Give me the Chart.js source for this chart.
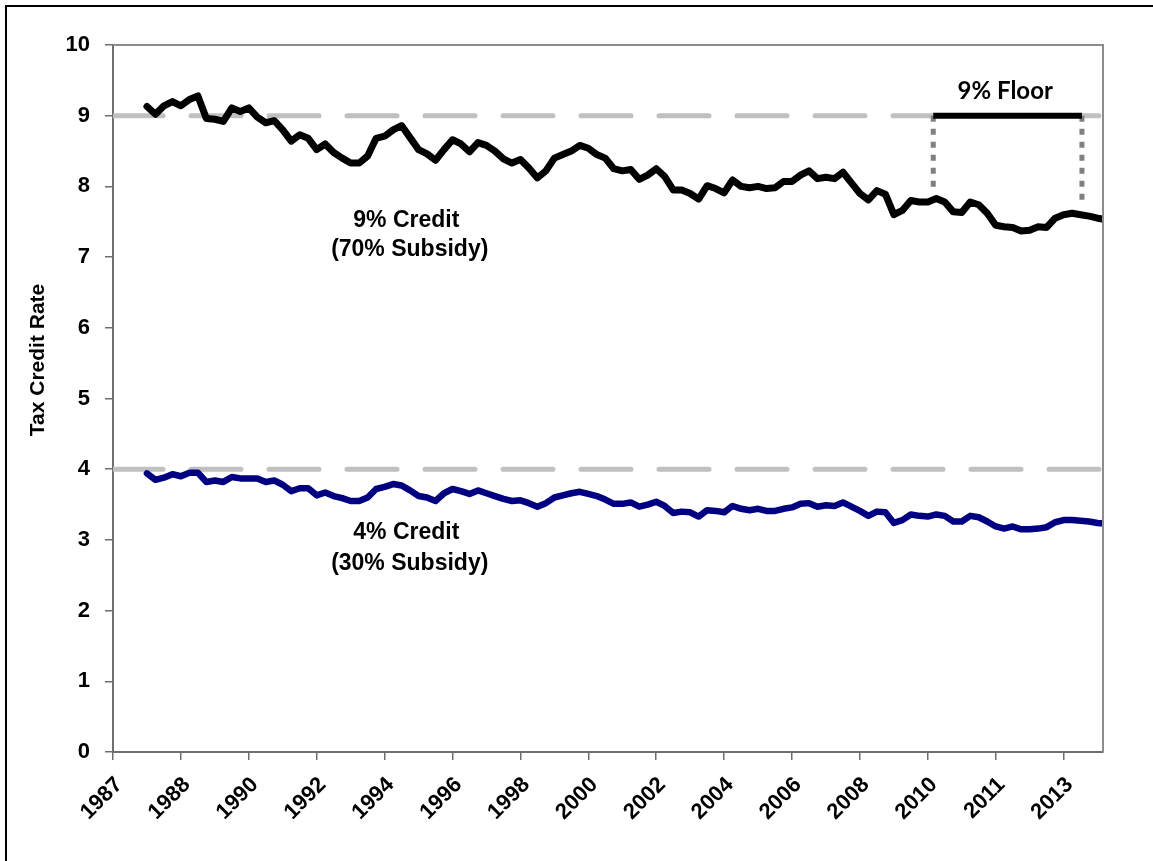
<!DOCTYPE html>
<html>
<head>
<meta charset="utf-8">
<script src="https://cdn.jsdelivr.net/npm/chart.js@4.4.0/dist/chart.umd.min.js"></script>
<style>
  html, body { margin: 0; padding: 0; background: #fff; }
  canvas { display: block; }
</style>
</head>
<body>
<canvas id="chart" width="1153" height="861"></canvas>
<script>
// x axis: one unit = one tick interval, labels as printed on the original
const tickLabels = ['1987', '1988', '1990', '1992', '1994', '1996', '1998', '2000',
    '2002', '2004', '2006', '2008', '2010', '2011', '2013'];
const xStart = 0.5;
const xStep = 0.125;
const xMax = 14.58;

// 9% credit (70% subsidy)
const credit9 = [
    9.13, 9.02, 9.14, 9.20, 9.14, 9.23, 9.28, 8.96, 8.95, 8.92,
    9.11, 9.06, 9.11, 8.98, 8.90, 8.93, 8.80, 8.64, 8.73, 8.68,
    8.52, 8.60, 8.48, 8.40, 8.33, 8.33, 8.43, 8.68, 8.71, 8.80,
    8.86, 8.69, 8.52, 8.46, 8.37, 8.52, 8.66, 8.60, 8.49, 8.62,
    8.58, 8.50, 8.39, 8.33, 8.38, 8.26, 8.12, 8.22, 8.40, 8.45,
    8.50, 8.58, 8.54, 8.45, 8.40, 8.25, 8.22, 8.24, 8.10, 8.16,
    8.25, 8.14, 7.95, 7.95, 7.90, 7.82, 8.01, 7.97, 7.91, 8.09,
    8.00, 7.98, 8.00, 7.97, 7.98, 8.07, 8.07, 8.16, 8.22, 8.11,
    8.13, 8.11, 8.20, 8.05, 7.90, 7.81, 7.94, 7.89, 7.60, 7.66,
    7.80, 7.78, 7.78, 7.83, 7.78, 7.64, 7.63, 7.78, 7.74, 7.62,
    7.45, 7.43, 7.42, 7.37, 7.38, 7.43, 7.42, 7.55, 7.60, 7.62,
    7.60, 7.58, 7.55, 7.53
];

// 4% credit (30% subsidy)
const credit4 = [
    3.94, 3.85, 3.88, 3.93, 3.90, 3.95, 3.95, 3.82, 3.84, 3.82,
    3.89, 3.87, 3.87, 3.87, 3.82, 3.84, 3.78, 3.69, 3.73, 3.73,
    3.63, 3.67, 3.62, 3.59, 3.55, 3.55, 3.60, 3.72, 3.75, 3.79,
    3.77, 3.70, 3.62, 3.60, 3.55, 3.66, 3.72, 3.69, 3.65, 3.70,
    3.66, 3.62, 3.58, 3.55, 3.56, 3.52, 3.47, 3.52, 3.60, 3.63,
    3.66, 3.68, 3.65, 3.62, 3.57, 3.51, 3.51, 3.53, 3.47, 3.50,
    3.54, 3.48, 3.38, 3.40, 3.39, 3.33, 3.42, 3.41, 3.39, 3.48,
    3.44, 3.42, 3.44, 3.41, 3.41, 3.44, 3.46, 3.51, 3.52, 3.47,
    3.49, 3.48, 3.53, 3.47, 3.41, 3.34, 3.40, 3.39, 3.24, 3.28,
    3.36, 3.34, 3.33, 3.36, 3.34, 3.26, 3.26, 3.34, 3.32, 3.26,
    3.19, 3.16, 3.19, 3.15, 3.15, 3.16, 3.18, 3.25, 3.28, 3.28,
    3.27, 3.26, 3.24, 3.23
];

// statutory levels and the 9% floor period
const refLevels = [9, 4];
const floorLevel = 9;
const floorSpan = [12.08, 14.27];
const floorDrop = [7.91, 7.74];

function toPoints(values) {
    return values.map((v, i) => ({ x: xStart + i * xStep, y: v }));
}

const FONT = "'Liberation Sans', Arial, sans-serif";

const decorations = {
    id: 'decorations',
    beforeDraw(chart) {
        const ctx = chart.ctx;
        ctx.save();
        ctx.fillStyle = '#fff';
        ctx.fillRect(0, 0, chart.width, chart.height);
        ctx.restore();
    },
    afterDraw(chart) {
        const ctx = chart.ctx;
        const { left, right, top, bottom } = chart.chartArea;
        const xs = chart.scales.x, ys = chart.scales.y;
        ctx.save();
        // outer frame (top and left edges are visible)
        ctx.strokeStyle = '#000';
        ctx.lineWidth = 2;
        ctx.beginPath();
        ctx.moveTo(6, chart.height);
        ctx.lineTo(6, 6);
        ctx.lineTo(chart.width, 6);
        ctx.stroke();
        // plot border, top and right
        ctx.strokeStyle = '#8c8c8c';
        ctx.lineWidth = 2;
        ctx.beginPath();
        ctx.moveTo(left, top);
        ctx.lineTo(right, top);
        ctx.lineTo(right, bottom);
        ctx.stroke();

        // y title
        ctx.fillStyle = '#000';
        ctx.font = 'bold 21px ' + FONT;
        ctx.textAlign = 'center';
        ctx.textBaseline = 'middle';
        ctx.translate(38, 360);
        ctx.rotate(-Math.PI / 2);
        ctx.fillText('Tax Credit Rate', 0, 0);
        ctx.setTransform(1, 0, 0, 1, 0, 0);

        // series labels
        ctx.font = 'bold 23px ' + FONT;
        const lbl = (t, x, y) => ctx.fillText(t, xs.getPixelForValue(x), ys.getPixelForValue(y));
        lbl('9% Credit', 4.32, 7.52);
        lbl('(70% Subsidy)', 4.37, 7.1);
        lbl('4% Credit', 4.32, 3.1);
        lbl('(30% Subsidy)', 4.37, 2.67);

        ctx.font = "bold 24px Lato, 'Open Sans', sans-serif";
        lbl('9% Floor', 13.14, 9.34);
        ctx.restore();
    }
};

const ctx = document.getElementById('chart').getContext('2d');
new Chart(ctx, {
    type: 'line',
    data: {
        datasets: [
            {
                label: '9% Credit',
                data: toPoints(credit9),
                borderColor: '#000',
                borderWidth: 7,
                borderJoinStyle: 'round',
                borderCapStyle: 'round',
                pointRadius: 0,
                tension: 0
            },
            {
                label: '4% Credit',
                data: toPoints(credit4),
                borderColor: '#000080',
                borderWidth: 6.5,
                borderJoinStyle: 'round',
                borderCapStyle: 'round',
                pointRadius: 0,
                tension: 0
            },
            {
                label: '9% Floor',
                data: [{ x: floorSpan[0], y: floorLevel }, { x: floorSpan[1], y: floorLevel }],
                borderColor: '#000',
                borderWidth: 6,
                borderCapStyle: 'butt',
                pointRadius: 0
            },
            {
                label: 'floor start',
                data: [{ x: floorSpan[0], y: floorLevel }, { x: floorSpan[0], y: floorDrop[0] }],
                borderColor: '#808080',
                borderWidth: 5,
                borderDash: [6, 7],
                pointRadius: 0
            },
            {
                label: 'floor end',
                data: [{ x: floorSpan[1], y: floorLevel }, { x: floorSpan[1], y: floorDrop[1] }],
                borderColor: '#808080',
                borderWidth: 5,
                borderDash: [6, 7],
                pointRadius: 0
            },
            ...refLevels.map(level => ({
                label: level + '% statutory',
                data: [{ x: 0, y: level }, { x: xMax, y: level }],
                borderColor: '#c0c0c0',
                borderWidth: 5,
                borderDash: [50, 28],
                borderCapStyle: 'round',
                pointRadius: 0
            }))
        ]
    },
    options: {
        responsive: false,
        animation: false,
        devicePixelRatio: 1,
        layout: { padding: { top: 45, right: 50, left: 0, bottom: 0 } },
        plugins: {
            legend: { display: false },
            tooltip: { enabled: false }
        },
        scales: {
            x: {
                type: 'linear',
                min: 0,
                max: xMax,
                afterFit: (scale) => { scale.height = 109; },
                border: { color: '#6e6e6e', width: 2 },
                grid: { drawOnChartArea: false, drawTicks: true, tickLength: 8, tickColor: '#6e6e6e', lineWidth: 1.5 },
                ticks: {
                    stepSize: 1,
                    includeBounds: false,
                    autoSkip: false,
                    minRotation: 45,
                    maxRotation: 45,
                    padding: 12,
                    labelOffset: 6,
                    color: '#000',
                    font: { family: FONT, size: 22, weight: 'bold' },
                    callback: (v) => tickLabels[v] !== undefined ? tickLabels[v] : ''
                }
            },
            y: {
                min: 0,
                max: 10,
                afterFit: (scale) => { scale.width = 113; },
                border: { color: '#6e6e6e', width: 2 },
                grid: { drawOnChartArea: false, drawTicks: true, tickLength: 8, tickColor: '#6e6e6e', lineWidth: 1.5 },
                ticks: {
                    stepSize: 1,
                    padding: 15,
                    color: '#000',
                    font: { family: FONT, size: 22, weight: 'bold' }
                }
            }
        }
    },
    plugins: [decorations]
});
</script>
</body>
</html>
